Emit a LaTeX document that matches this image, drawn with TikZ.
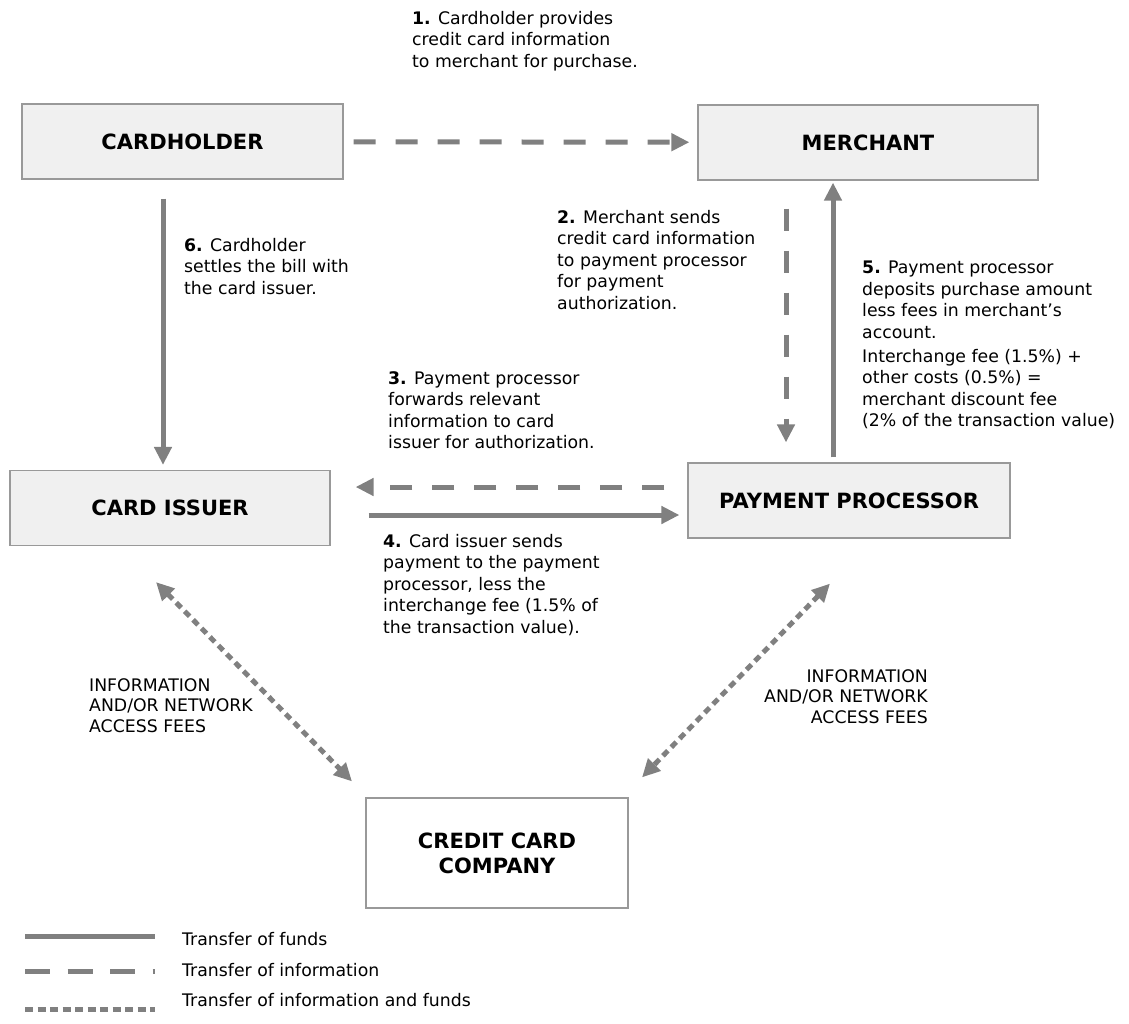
\documentclass[tikz,border=0pt]{standalone}
\usepackage{fontspec}
\setmainfont{DejaVu Sans}
\usetikzlibrary{arrows.meta, positioning}
\definecolor{linegray}{HTML}{808080}
\definecolor{boxgray}{HTML}{F0F0F0}
\definecolor{edgegray}{HTML}{999999}
\tikzset{
    x=1pt, y=-1pt, % one unit is one pixel of the sketch, y runs down
    >={Triangle[length=18pt, width=17pt]}, % filled arrow heads
    party/.style={draw=edgegray, line width=1.2pt, fill=boxgray, minimum width=321pt, minimum height=75pt,
        font=\bfseries\fontsize{21}{25}\selectfont, align=center}, % the boxes
    note/.style={anchor=north west, align=left, inner sep=0pt, font=\fontsize{17.3}{21.5}\selectfont}, % the step texts
    funds/.style={->, draw=linegray, line width=5pt}, % money
    info/.style={->, draw=linegray, line width=5pt, dash pattern=on 22pt off 20pt}, % information
    both/.style={<->, draw=linegray, line width=5pt, dash pattern=on 7pt off 5pt}, % money and information
}
\begin{document}
\begin{tikzpicture}
    \useasboundingbox (0,0) rectangle (1129,1023);
    \node[party] (holder) at (182.5,141.5) {CARDHOLDER};
    \node[party, minimum width=340pt] (merchant) at (868,142.5) {MERCHANT};
    \node[party, minimum width=320pt] (issuer) at (170,508) {CARD ISSUER};
    \node[party, minimum width=322pt] (processor) at (849,500.5) {PAYMENT PROCESSOR};
    \node[party, fill=white, minimum width=262pt, minimum height=110pt] (company) at (497,853) {CREDIT CARD\\COMPANY};

    % steps
    \node[note] (step1) at (412,11) {\textbf{1.} Cardholder provides\\credit card information\\to merchant for purchase.};
    \node[note] (step2) at (557,210) {\textbf{2.} Merchant sends\\credit card information\\to payment processor\\for payment\\authorization.};
    \node[note] (step3) at (388,371) {\textbf{3.} Payment processor\\forwards relevant\\information to card\\issuer for authorization.};
    \node[note] (step4) at (383,534) {\textbf{4.} Card issuer sends\\payment to the payment\\processor, less the\\interchange fee (1.5\% of\\the transaction value).};
    \node[note] (step5) at (862,261) {\textbf{5.} Payment processor\\deposits purchase amount\\less fees in merchant’s\\account.};
    \node[note, below=10pt of step5.south west, anchor=north west] (fee) {Interchange fee (1.5\%) +\\other costs (0.5\%) =\\merchant discount fee\\(2\% of the transaction value)};
    \node[note] (step6) at (184,238) {\textbf{6.} Cardholder\\settles the bill with\\the card issuer.};
    \node[note, font=\fontsize{17.3}{20.5}\selectfont] (feesl) at (89,678) {INFORMATION\\AND/OR NETWORK\\ACCESS FEES};
    \node[note, font=\fontsize{17.3}{20.5}\selectfont, anchor=north east, align=right] (feesr) at (928,669) {INFORMATION\\AND/OR NETWORK\\ACCESS FEES};

    % flows
    \draw[info, shorten <=10pt, shorten >=8pt] (holder) -- (merchant);
    \draw[funds, shorten <=19pt, shorten >=5pt] ([xshift=-19.5pt]holder.south) -- ([xshift=-7pt]issuer.north);
    \draw[info, shorten <=28pt, shorten >=20pt] ([xshift=-82pt]merchant.south) -- ([xshift=-63pt]processor.north);
    \draw[funds, shorten <=5pt, shorten >=2pt] ([xshift=-16pt]processor.north) -- ([xshift=-35pt]merchant.south);
    \draw[info, shorten <=23pt, shorten >=25pt] ([yshift=13.5pt]processor.west) -- ([yshift=21pt]issuer.east);
    \draw[funds, shorten <=38pt, shorten >=8pt] ([yshift=-7pt]issuer.east) -- ([yshift=-14.5pt]processor.west);
    \draw[both] ([xshift=-14pt,yshift=-36pt]issuer.south) -- ([xshift=-145pt,yshift=16pt]company.north);
    \draw[both] ([xshift=-19pt,yshift=-45pt]processor.south) -- ([xshift=145pt,yshift=20pt]company.north);

    % legend
    \node[note] (lfunds) at (182,932) {Transfer of funds};
    \node[note] (linfo) at (182,963) {Transfer of information};
    \node[note] (lboth) at (182,993) {Transfer of information and funds};
    \draw[funds, -] ([xshift=-157pt,yshift=2pt]lfunds.west) -- ([xshift=-27pt,yshift=2pt]lfunds.west);
    \draw[info, -, dash pattern=on 25pt off 17.5pt] ([xshift=-157pt,yshift=-2pt]linfo.west) -- ([xshift=-27pt,yshift=-2pt]linfo.west);
    \draw[both, -, dash pattern=on 8pt off 4.5pt] ([xshift=-157pt,yshift=-10pt]lboth.west) -- ([xshift=-27pt,yshift=-10pt]lboth.west);
\end{tikzpicture}
\end{document}
